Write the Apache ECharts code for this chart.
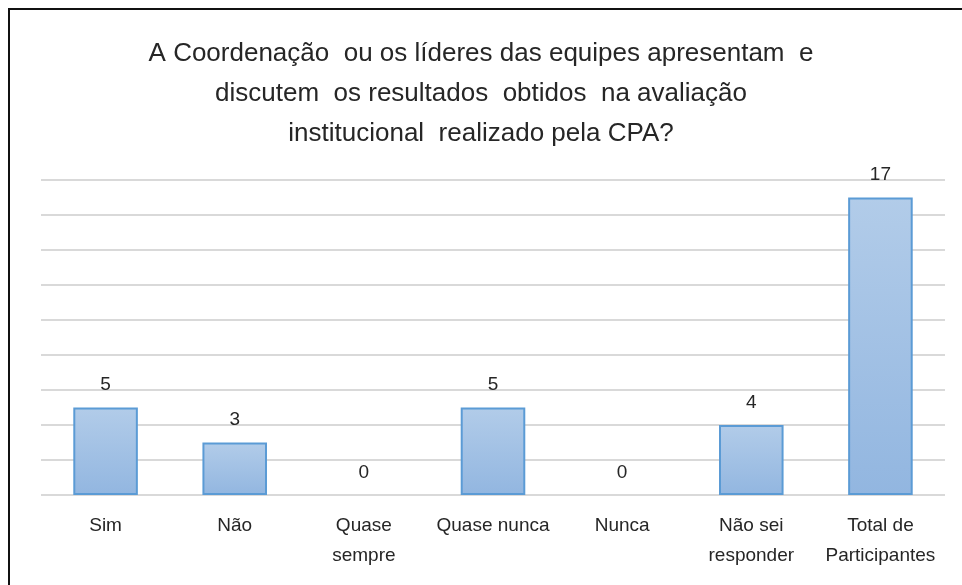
<!DOCTYPE html>
<html>
<head>
<meta charset="utf-8">
<script src="https://cdn.jsdelivr.net/npm/echarts@6/dist/echarts.min.js"></script>
<style>
  html, body { margin: 0; padding: 0; background: #fff; }
  #chart { width: 962px; height: 585px; }
</style>
</head>
<body>
<div id="chart"></div>
<script>
// Response categories and counts
const categories = ['Sim', 'Não', 'Quase\nsempre', 'Quase nunca', 'Nunca', 'Não sei\nresponder', 'Total de\nParticipantes'];
const counts = [5, 3, 0, 5, 0, 4, 17];
const titleText = 'A Coordenação  ou os líderes das equipes apresentam  e\ndiscutem  os resultados  obtidos  na avaliação\ninstitucional  realizado pela CPA?';

const FONT = 'Liberation Sans';
const chart = echarts.init(document.getElementById('chart'));
chart.setOption({
  backgroundColor: '#ffffff',
  animation: false,
  title: {
    text: titleText,
    left: 'center',
    top: 29,
    textStyle: { fontFamily: FONT, fontSize: 26, fontWeight: 'normal', color: '#262626', lineHeight: 40 }
  },
  graphic: [
    { type: 'line', shape: { x1: 8, y1: 9, x2: 962, y2: 9 }, style: { stroke: '#111', lineWidth: 2 } },
    { type: 'line', shape: { x1: 9, y1: 8, x2: 9, y2: 585 }, style: { stroke: '#111', lineWidth: 2 } }
  ],
  grid: { left: 41, right: 17, top: 180, bottom: 90, containLabel: false },
  xAxis: {
    type: 'category',
    data: categories,
    axisLine: { show: false },
    axisTick: { show: false },
    axisLabel: { interval: 0, margin: 16, fontFamily: FONT, fontSize: 19, color: '#262626', lineHeight: 30 }
  },
  yAxis: {
    type: 'value',
    min: 0,
    max: 18,
    interval: 2,
    axisLabel: { show: false },
    axisLine: { show: false },
    axisTick: { show: false },
    splitLine: { lineStyle: { color: '#d9d9d9', width: 2 } }
  },
  series: [{
    type: 'bar',
    // zero-height bars carry no outline
    data: counts.map(v => (v === 0 ? { value: v, itemStyle: { borderWidth: 0 } } : v)),
    barWidth: '50%',
    itemStyle: {
      color: new echarts.graphic.LinearGradient(0, 0, 0, 1, [
        { offset: 0, color: '#b2cce9' },
        { offset: 1, color: '#92b6e0' }
      ]),
      borderColor: '#5b9bd5',
      borderWidth: 2
    },
    label: {
      show: true,
      position: 'top',
      distance: 13,
      fontFamily: FONT,
      fontSize: 19,
      color: '#262626'
    }
  }]
});
</script>
</body>
</html>
